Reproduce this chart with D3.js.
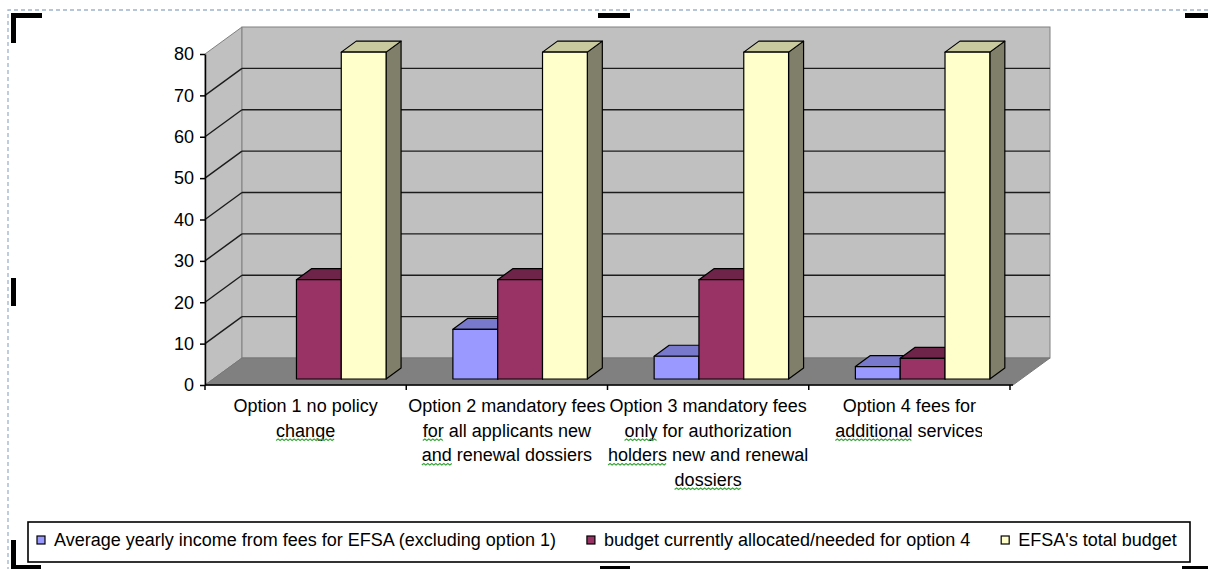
<!DOCTYPE html>
<html>
<head>
<meta charset="utf-8">
<script src="https://cdn.jsdelivr.net/npm/d3@7"></script>
<style>
  html, body { margin: 0; padding: 0; background: #ffffff; }
  svg { display: block; }
  text { font-family: "Liberation Sans", Arial, sans-serif; fill: #000; }
</style>
</head>
<body>
<svg id="chart" width="1208" height="569"></svg>
<script>
// ---- data ----
const categories = ["Option 1", "Option 2", "Option 3", "Option 4"];
const categoryLabels = [
  ["Option 1 no policy", "change"],
  ["Option 2 mandatory fees", "for all applicants new", "and renewal dossiers"],
  ["Option 3 mandatory fees", "only for authorization", "holders new and renewal", "dossiers"],
  ["Option 4 fees for", "additional services"]
];
const seriesNames = [
  "Average yearly income from fees for EFSA (excluding option 1)",
  "budget currently allocated/needed for option 4",
  "EFSA's total budget"
];
const feeIncome = [null, 12, 5.5, 3];
const budgetOption4 = [24, 24, 24, 5];
const totalBudget = [79, 79, 79, 79];
const yTicks = [0, 10, 20, 30, 40, 50, 60, 70, 80];
// words marked by the spell checker: [category, line, word]
const flaggedWords = [[0, 1, "change"], [1, 1, "for"], [1, 2, "and"], [2, 1, "only"],
                      [2, 2, "holders"], [2, 3, "dossiers"], [3, 1, "additional"]];

const seriesValues = [feeIncome, budgetOption4, totalBudget];
const faceColors = [
  { front: "#9999ff", top: "#7878cc", side: "#5c5c99" },
  { front: "#993366", top: "#6e2449", side: "#5a1d3c" },
  { front: "#ffffcc", top: "#c9c9a0", side: "#80806a" }
];

// ---- layout ----
const svg = d3.select("#chart");
const X0 = 205, X1 = 1010;          // front plane of the plot
const DX = 37, DY = 27;             // depth of the walls
const ZX = 8, ZY = 6;               // front face of the bars behind the front plane
const BDX = 15, BDY = 11;           // depth of a bar

const y = d3.scaleLinear().domain([0, 80]).range([385, 54]);
const x = d3.scaleBand().domain(categories).range([X0, X1]).padding(0);
const bw = x.bandwidth();
const xs = d3.scaleBand().domain(d3.range(seriesNames.length))
  .range([0.192 * bw, 0.192 * bw + 0.668 * bw]).padding(0);

// ---- walls and floor ----
const walls = svg.append("g");
const yTop = y(80), yBot = y(0);
// left wall
walls.append("path")
  .attr("d", `M${X0},${yTop}L${X0 + DX},${yTop - DY}L${X0 + DX},${yBot - DY}L${X0},${yBot}Z`)
  .attr("fill", "#c0c0c0").attr("stroke", "#808080").attr("stroke-width", 1);
// back wall
walls.append("rect")
  .attr("x", X0 + DX).attr("y", yTop - DY)
  .attr("width", X1 + 3 - X0).attr("height", yBot - yTop)
  .attr("fill", "#c0c0c0").attr("stroke", "#808080").attr("stroke-width", 1);
// floor
walls.append("path")
  .attr("d", `M${X0},${yBot}L${X0 + DX},${yBot - DY}L${X1 + 3 + DX},${yBot - DY}L${X1 + 3},${yBot}Z`)
  .attr("fill", "#808080").attr("stroke", "#777").attr("stroke-width", 1);

// gridlines on the back and left walls
const grid = yTicks.filter(t => t > 0 && t < 80);
walls.selectAll(".gridBack").data(grid).join("line")
  .attr("x1", X0 + DX).attr("x2", X1 + 3 + DX)
  .attr("y1", d => y(d) - DY).attr("y2", d => y(d) - DY)
  .attr("stroke", "#1c1c1c").attr("stroke-width", 1.4);
walls.selectAll(".gridSide").data(grid).join("line")
  .attr("x1", X0).attr("x2", X0 + DX)
  .attr("y1", d => y(d)).attr("y2", d => y(d) - DY)
  .attr("stroke", "#1c1c1c").attr("stroke-width", 1.4);

// ---- 3D bars ----
const bars = svg.append("g");
categories.forEach((c, ci) => {
  seriesValues.forEach((vals, si) => {
    const v = vals[ci];
    if (v == null) return;
    const col = faceColors[si];
    const xl = x(c) + xs(si) + ZX;
    const w = xs.bandwidth();
    const yb = y(0) - ZY;
    const yt = y(v) - ZY;
    const g = bars.append("g").attr("stroke", "#000").attr("stroke-width", 1.2)
      .attr("stroke-linejoin", "round");
    g.append("path").attr("fill", col.side)
      .attr("d", `M${xl + w},${yt}L${xl + w + BDX},${yt - BDY}L${xl + w + BDX},${yb - BDY}L${xl + w},${yb}Z`);
    g.append("path").attr("fill", col.top)
      .attr("d", `M${xl},${yt}L${xl + BDX},${yt - BDY}L${xl + w + BDX},${yt - BDY}L${xl + w},${yt}Z`);
    g.append("rect").attr("fill", col.front)
      .attr("x", xl).attr("y", yt).attr("width", w).attr("height", yb - yt);
  });
});

// ---- axes ----
const yAxis = svg.append("g").attr("transform", `translate(${X0},0)`)
  .call(d3.axisLeft(y).tickValues(yTicks).tickSize(5).tickSizeOuter(0).tickPadding(6));
yAxis.select(".domain").attr("stroke", "#000").attr("stroke-width", 1.5);
yAxis.selectAll(".tick line").attr("stroke", "#000").attr("stroke-width", 1.5);
yAxis.selectAll(".tick text").style("font-size", "18px")
  .style("font-family", '"Liberation Sans", Arial, sans-serif').attr("fill", "#000");

const xAxis = svg.append("g");
xAxis.append("line").attr("x1", X0).attr("x2", X1 + 3).attr("y1", y(0)).attr("y2", y(0))
  .attr("stroke", "#000").attr("stroke-width", 1.5);
const boundaries = categories.map(c => x(c)).concat([X1]);
xAxis.selectAll(".tickB").data(boundaries).join("line")
  .attr("x1", d => d).attr("x2", d => d).attr("y1", y(0)).attr("y2", y(0) + 5)
  .attr("stroke", "#000").attr("stroke-width", 1.5);

// category labels, wrapped as in the sheet
svg.append("clipPath").attr("id", "labelClip")
  .append("rect").attr("x", 0).attr("y", 390).attr("width", 982).attr("height", 110);
const labels = svg.append("g").attr("clip-path", "url(#labelClip)");
const squiggles = svg.append("g");

function squiggle(x1, x2, yy) {
  let d = `M${x1},${yy}`;
  let up = true;
  for (let xx = x1 + 2; xx <= x2; xx += 2) {
    d += `L${xx},${up ? yy - 1.5 : yy}`;
    up = !up;
  }
  squiggles.append("path").attr("d", d).attr("fill", "none")
    .attr("stroke", "#3aa53a").attr("stroke-width", 1.1);
}

categories.forEach((c, ci) => {
  const cx = x(c) + bw / 2;
  categoryLabels[ci].forEach((line, li) => {
    const t = labels.append("text")
      .attr("x", cx).attr("y", 412 + li * 24.5)
      .attr("text-anchor", "middle").style("font-size", "18px").text(line);
    flaggedWords.filter(f => f[0] === ci && f[1] === li).forEach(f => {
      const idx = line.indexOf(f[2]);
      const node = t.node();
      const sx = node.getStartPositionOfChar(idx).x;
      const len = node.getSubStringLength(idx, f[2].length);
      squiggle(sx, sx + len, 412 + li * 24.5 + 4);
    });
  });
});

// ---- legend ----
const legend = svg.append("g");
legend.append("rect").attr("x", 28).attr("y", 522).attr("width", 1162).attr("height", 40)
  .attr("fill", "#fff").attr("stroke", "#000").attr("stroke-width", 1.6);
let lx = 37;
seriesNames.forEach((name, si) => {
  legend.append("rect").attr("x", lx).attr("y", 536).attr("width", 8).attr("height", 8)
    .attr("fill", faceColors[si].front).attr("stroke", "#000").attr("stroke-width", 1.2);
  const t = legend.append("text").attr("x", lx + 17).attr("y", 546)
    .style("font-size", "18px").text(name);
  const node = t.node();
  if (si === 1) {
    const len = node.getSubStringLength(0, 6);
    squiggle(lx + 17, lx + 17 + len, 550);
  }
  lx = lx + 17 + node.getComputedTextLength() + 31;
});

// ---- frame of the embedded object with its sizing handles ----
const frame = svg.append("g");
frame.append("path").attr("d", "M8,1208V10H1208").attr("fill", "none")
  .attr("stroke", "#9fb2cc").attr("stroke-width", 1.3).attr("stroke-dasharray", "4,3");
const handles = [
  [11, 13, 31, 5], [11, 13, 5, 30],            // top-left corner
  [598, 13, 32, 5],                            // top middle
  [1185, 13, 23, 5],                           // top right
  [11, 278, 5, 28],                            // left middle
  [11, 540, 5, 29], [11, 565, 30, 4],          // bottom-left corner
  [600, 566, 30, 3], [1182, 566, 26, 3]        // bottom handles
];
frame.selectAll(".handle").data(handles).join("rect")
  .attr("x", d => d[0]).attr("y", d => d[1]).attr("width", d => d[2]).attr("height", d => d[3])
  .attr("fill", "#000");
</script>
</body>
</html>
